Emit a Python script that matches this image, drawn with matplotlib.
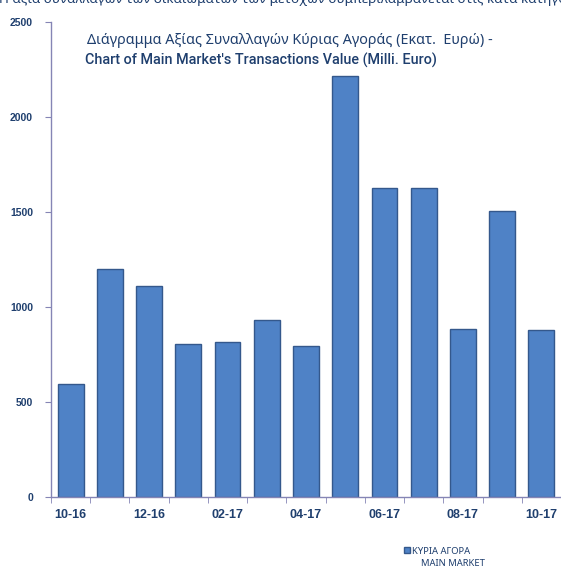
import matplotlib
matplotlib.use("Agg")
import matplotlib.pyplot as plt
import numpy as np

months = ["10-16", "11-16", "12-16", "01-17", "02-17", "03-17", "04-17",
          "05-17", "06-17", "07-17", "08-17", "09-17", "10-17"]
values = [597, 1202, 1109, 805, 814, 932, 793, 2215, 1628, 1625, 886, 1507, 877]
yticks = [0, 500, 1000, 1500, 2000, 2500]

navy = "#1F3F6E"
axis_col = "#8585B5"
bar_col = "#4F82C6"
edge_col = "#34588C"

plt.rcParams['font.family'] = ['Liberation Sans', 'DejaVu Sans']
title_font = ['Noto Sans', 'DejaVu Sans']
narrow_font = ['Roboto', 'Liberation Sans', 'DejaVu Sans']

fig = plt.figure(figsize=(5.61, 5.70), dpi=100)
ax = fig.add_axes([51/561, 1 - 497/570, 510/561, (497 - 22)/570])

x = np.arange(len(months))
ax.bar(x, values, width=0.66, color=bar_col, edgecolor=edge_col, linewidth=1.0,
       label="ΚΥΡΙΑ ΑΓΟΡΑ", zorder=2)

ax.set_xlim(-0.5, len(months) - 0.5)
ax.set_ylim(0, 2500)
ax.set_yticks(yticks)
ax.set_yticklabels([str(v) for v in yticks], fontsize=7.5, fontweight='bold', color=navy)
ax.set_xticks(x[::2])
ax.set_xticklabels(months[::2], fontsize=9, fontweight='bold', color=navy)
ax.set_xticks(np.arange(-0.5, len(months), 1.0), minor=True)
ax.tick_params(axis='x', which='major', length=0, pad=9)
ax.tick_params(axis='x', which='minor', length=4, color=axis_col, direction='out')
ax.tick_params(axis='y', length=4, color=axis_col, direction='out', pad=9)

for s in ['top', 'right']:
    ax.spines[s].set_visible(False)
for s in ['left', 'bottom']:
    ax.spines[s].set_color(axis_col)
    ax.spines[s].set_linewidth(1.0)

fig.text(87/561, 1 - 40/570, "Διάγραμμα Αξίας Συναλλαγών Κύριας Αγοράς (Εκατ.  Ευρώ) -",
         fontsize=10.3, color=navy, ha='left', va='center', family=title_font)
fig.text(85/561, 1 - 60/570, "Chart of Main Market's Transactions Value (Milli. Euro)",
         fontsize=10.4, color=navy, ha='left', va='center', family=narrow_font,
         fontweight='medium')

fig.text(-0.002, 1 + 1/570,
         "Η αξία συναλλαγών των δικαιωμάτων των μετοχών συμπεριλαμβάνεται στις κατά κατηγορία",
         fontsize=9.7, color=navy, ha='left', va='center', family=title_font)

leg = fig.legend(loc='center left', bbox_to_anchor=(404/561, 1 - 551/570), frameon=False,
                 prop={'family': title_font, 'size': 6.8},
                 handlelength=0.6, handleheight=0.6, handletextpad=0.2,
                 borderpad=0, borderaxespad=0)
for t in leg.get_texts():
    t.set_color(navy)
fig.text(421/561, 1 - 563/570, "MAIN MARKET", fontsize=6.8, color=navy, ha='left',
         va='center', family=title_font)

fig.savefig("out.png", dpi=100)
